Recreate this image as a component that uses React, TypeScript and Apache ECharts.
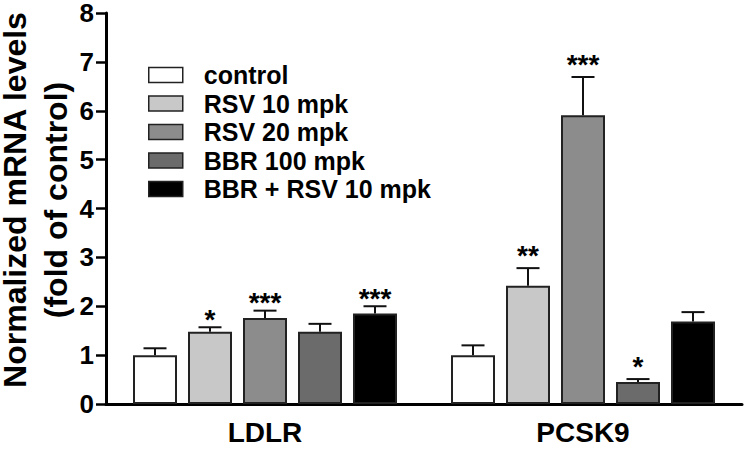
import React, { useEffect, useRef } from "react";
import * as echarts from "echarts";

const categories = ["LDLR", "PCSK9"];
const treatments = ["control", "RSV 10 mpk", "RSV 20 mpk", "BBR 100 mpk", "BBR + RSV 10 mpk"];
const controlMean = [1.0, 1.0];
const rsv10Mean = [1.48, 2.42];
const rsv20Mean = [1.76, 5.91];
const bbrMean = [1.48, 0.45];
const comboMean = [1.85, 1.69];
const controlErr = [0.14, 0.2];
const rsv10Err = [0.09, 0.36];
const rsv20Err = [0.15, 0.78];
const bbrErr = [0.16, 0.06];
const comboErr = [0.15, 0.19];
const controlStars = ["", ""];
const rsv10Stars = ["*", "**"];
const rsv20Stars = ["***", "***"];
const bbrStars = ["", "*"];
const comboStars = ["***", ""];
const yTicks = [0, 1, 2, 3, 4, 5, 6, 7, 8];
const yTitleLines = ["Normalized mRNA levels", "(fold of control)"];

const means = [controlMean, rsv10Mean, rsv20Mean, bbrMean, comboMean];
const errs = [controlErr, rsv10Err, rsv20Err, bbrErr, comboErr];
const stars = [controlStars, rsv10Stars, rsv20Stars, bbrStars, comboStars];
const colors = ["#ffffff", "#c8c8c8", "#8c8c8c", "#6b6b6b", "#000000"];

const FONT = "'Liberation Sans', Arial, Helvetica, sans-serif";
const BAR_W = 44;
const BAR_GAP = 11;
const CAP = 23;
const STAR_GAP = [14, 19];
const TITLE_X = [15, 56];
const TITLE_Y = 200;

export default function App() {
  const ref = useRef<HTMLDivElement>(null);
  useEffect(() => {
    if (!ref.current) return;
    const chart = echarts.init(ref.current, null, { renderer: "svg" });
    const barSeries = treatments.map((name, i) => ({
      type: "bar",
      name,
      data: means[i],
      barWidth: BAR_W,
      barGap: (BAR_GAP / BAR_W) * 100 + "%",
      itemStyle: { color: colors[i], borderColor: "#222", borderWidth: 2 },
      z: 2,
    }));
    const errSeries = treatments.map((_, i) => ({
      type: "custom",
      data: categories.map((_, c) => [c, means[i][c], errs[i][c]]),
      encode: { x: 0, y: 1 },
      z: 3,
      renderItem: (params: any, api: any) => {
        const cat = api.value(0);
        const m = api.value(1);
        const e = api.value(2);
        const base = api.coord([cat, m]);
        const top = api.coord([cat, m + e]);
        const x = base[0] + (i - 2) * (BAR_W + BAR_GAP);
        const s = stars[i][params.dataIndex];
        const children: any[] = [
          { type: "line", shape: { x1: x, y1: base[1], x2: x, y2: top[1] }, style: { stroke: "#111", lineWidth: 2 } },
          { type: "line", shape: { x1: x - CAP / 2, y1: top[1], x2: x + CAP / 2, y2: top[1] }, style: { stroke: "#111", lineWidth: 2 } },
        ];
        if (s) {
          children.push({
            type: "text",
            style: {
              text: s,
              x,
              y: top[1] - STAR_GAP[params.dataIndex] + 6,
              textAlign: "center",
              textVerticalAlign: "middle",
              font: `bold 28px ${FONT}`,
              fill: "#000",
            },
          });
        }
        return { type: "group", children };
      },
    }));
    chart.setOption({
      animation: false,
      backgroundColor: "#fff",
      grid: { left: 106, right: 5, top: 13, bottom: 45, outerBoundsMode: "none", containLabel: false },
      graphic: yTitleLines.map((t, k) => ({
        type: "text",
        x: TITLE_X[k],
        y: TITLE_Y,
        rotation: Math.PI / 2,
        style: {
          text: t,
          textAlign: "center",
          textVerticalAlign: "middle",
          font: `bold 32px ${FONT}`,
          fill: "#000",
        },
      })),
      legend: {
        orient: "vertical",
        left: 148,
        top: 61,
        padding: 0,
        itemWidth: 34,
        itemHeight: 15,
        itemGap: 0.5,
        selectedMode: false,
        data: treatments.map((name, i) => ({
          name,
          icon: "rect",
          itemStyle: { color: colors[i], borderColor: "#222", borderWidth: 1.5 },
        })),
        textStyle: {
          fontFamily: FONT,
          fontWeight: "bold",
          fontSize: 25,
          lineHeight: 28,
          color: "#000",
          padding: [0, 0, 0, 16],
        },
      },
      xAxis: {
        type: "category",
        data: categories,
        axisLine: { lineStyle: { color: "#000", width: 3 } },
        axisTick: { show: false },
        axisLabel: { fontFamily: FONT, fontWeight: "bold", fontSize: 28, color: "#000", margin: 14 },
      },
      yAxis: {
        type: "value",
        min: yTicks[0],
        max: yTicks[yTicks.length - 1],
        interval: 1,
        axisLine: { show: true, lineStyle: { color: "#000", width: 3 } },
        axisTick: { show: true, length: 10, lineStyle: { color: "#000", width: 2.5 } },
        axisLabel: { fontFamily: FONT, fontWeight: "bold", fontSize: 26, color: "#000", margin: 12 },
        splitLine: { show: false },
      },
      series: [...barSeries, ...errSeries],
    });
    return () => chart.dispose();
  }, []);
  return <div ref={ref} style={{ position: "fixed", left: 0, top: 0, width: 747, height: 449 }} />;
}
